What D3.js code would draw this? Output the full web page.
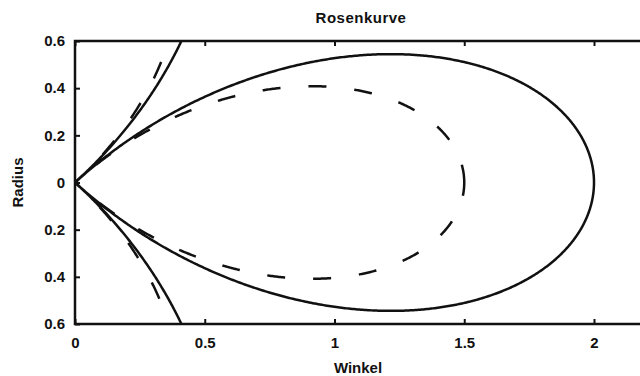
<!DOCTYPE html>
<html>
<head>
<meta charset="utf-8">
<script src="https://cdn.jsdelivr.net/npm/d3@7"></script>
<style>
  body { margin: 0; background: #fff; }
  text { font-family: "Liberation Sans", Arial, sans-serif; font-weight: bold; fill: #111; }
</style>
</head>
<body>
<div id="chart"></div>
<script>
const width = 640;
const height = 376;

// Rose curve r = a * cos(k * theta), one curve per amplitude
const amplitudes = [2, 1.5];
const styles = ["solid", "dashed"];
const petalFactor = 2;
const xTicks = [0, 0.5, 1, 1.5, 2];
const yTicks = [0.6, 0.4, 0.2, 0, -0.2, -0.4, -0.6];

const x = d3.scaleLinear().domain([0, 2.2]).range([75, 75 + 2.2 * 259.5]);
const y = d3.scaleLinear().domain([-0.6, 0.6]).range([324, 41]);

const svg = d3.select("#chart")
    .append("svg")
    .attr("width", width)
    .attr("height", height);

svg.append("defs").append("clipPath")
    .attr("id", "plot-clip")
    .append("rect")
    .attr("x", x(0)).attr("y", y(0.6))
    .attr("width", x(2.2) - x(0)).attr("height", y(-0.6) - y(0.6));

// curves
const thetas = d3.range(0, 2 * Math.PI + 0.002, 0.002);
const line = d3.line()
    .x(t => x(t.r * Math.cos(t.theta)))
    .y(t => y(t.r * Math.sin(t.theta)));

svg.append("g")
    .attr("clip-path", "url(#plot-clip)")
    .selectAll("path")
    .data(amplitudes)
    .join("path")
    .attr("d", a => line(thetas.map(th => ({ theta: th, r: a * Math.cos(petalFactor * th) }))))
    .attr("fill", "none")
    .attr("stroke", "#111")
    .attr("stroke-width", 2.5)
    .attr("stroke-dasharray", (a, i) => styles[i] === "dashed" ? "18,28" : null);

// frame
svg.append("rect")
    .attr("x", x(0)).attr("y", y(0.6))
    .attr("width", x(2.2) - x(0)).attr("height", y(-0.6) - y(0.6))
    .attr("fill", "none")
    .attr("stroke", "#111")
    .attr("stroke-width", 2.5);

// axes with inward ticks
const fmt = d => String(Math.abs(d));
svg.append("g")
    .attr("transform", `translate(0,${y(-0.6)})`)
    .call(d3.axisBottom(x).tickValues(xTicks).tickFormat(fmt).tickSizeInner(-5).tickSizeOuter(0).tickPadding(13))
    .call(g => g.select(".domain").remove());
svg.append("g")
    .attr("transform", `translate(0,${y(0.6)})`)
    .call(d3.axisTop(x).tickValues(xTicks).tickFormat("").tickSizeInner(-5).tickSizeOuter(0))
    .call(g => g.select(".domain").remove());
svg.append("g")
    .attr("transform", `translate(${x(0)},0)`)
    .call(d3.axisLeft(y).tickValues(yTicks).tickFormat(fmt).tickSizeInner(-5).tickSizeOuter(0).tickPadding(10))
    .call(g => g.select(".domain").remove());

svg.selectAll(".tick line").attr("stroke", "#111").attr("stroke-width", 2);
svg.selectAll(".tick text")
    .style("font-family", "'Liberation Sans', Arial, sans-serif")
    .style("font-weight", "bold")
    .style("font-size", "15px")
    .attr("fill", "#111");

// titles
svg.append("text")
    .attr("x", 361).attr("y", 23)
    .attr("text-anchor", "middle")
    .style("font-size", "15px")
    .style("letter-spacing", "0.5px")
    .text("Rosenkurve");

svg.append("text")
    .attr("x", 358).attr("y", 373)
    .attr("text-anchor", "middle")
    .style("font-size", "15px")
    .text("Winkel");

svg.append("text")
    .attr("transform", `translate(23,${y(0)}) rotate(-90)`)
    .attr("text-anchor", "middle")
    .style("font-size", "15px")
    .text("Radius");
</script>
</body>
</html>
